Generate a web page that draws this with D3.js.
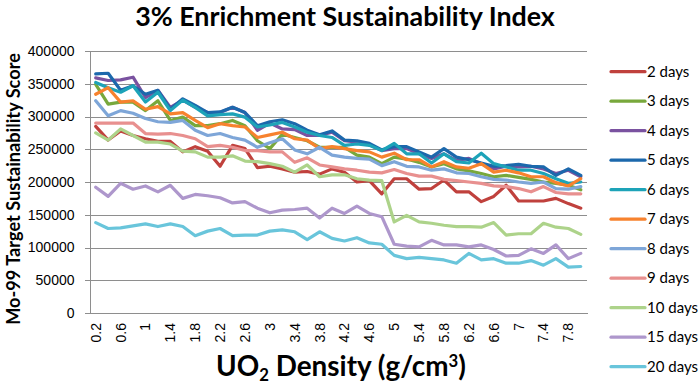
<!DOCTYPE html>
<html>
<head>
<meta charset="utf-8">
<script src="https://cdn.jsdelivr.net/npm/d3@7"></script>
<style>
  html, body { margin: 0; padding: 0; background: #fff; }
  svg { display: block; }
</style>
</head>
<body>
<svg id="chart" width="699" height="386"></svg>
<script>
const categories = ["0.2","0.4","0.6","0.8","1","1.2","1.4","1.6","1.8","2","2.2","2.4","2.6","2.8","3","3.2","3.4","3.6","3.8","4","4.2","4.4","4.6","4.8","5","5.2","5.4","5.6","5.8","6","6.2","6.4","6.6","6.8","7","7.2","7.4","7.6","7.8","8"];
const xTickLabels = ["0.2","0.6","1","1.4","1.8","2.2","2.6","3","3.4","3.8","4.2","4.6","5","5.4","5.8","6.2","6.6","7","7.4","7.8"];
const yTicks = [0, 50000, 100000, 150000, 200000, 250000, 300000, 350000, 400000];
const seriesNames = ["2 days","3 days","4 days","5 days","6 days","7 days","8 days","9 days","10 days","15 days","20 days"];
const seriesColors = ["#C0413D","#78A83C","#7A52A0","#1C68AC","#1DA3B8","#F7822E","#7EA6D8","#E8908F","#ADD38A","#AE97CC","#69C5DB"];

const days2 = [285000,264000,278000,271000,266000,262000,262000,246000,254000,247000,224000,256000,251000,222000,224000,220000,215000,216000,212000,220000,215000,200000,202000,182000,205000,205000,189000,190000,203000,185000,185000,170000,178000,195000,171000,171000,171000,175000,167000,160000];
const days3 = [349000,319000,322000,322000,309000,324000,294000,299000,286000,286000,289000,294000,286000,263000,251000,273000,268000,263000,253000,253000,253000,241000,238000,228000,238000,235000,230000,223000,228000,220000,217000,213000,208000,210000,207000,204000,200000,198000,195000,188000];
const days4 = [359000,355000,356000,360000,329000,340000,314000,325000,314000,306000,306000,314000,306000,279000,290000,281000,280000,271000,271000,276000,263000,261000,257000,248000,251000,251000,243000,236000,243000,233000,236000,228000,220000,224000,223000,224000,220000,213000,218000,208000];
const days5 = [365000,366000,340000,347000,334000,340000,311000,327000,317000,306000,307000,314000,306000,286000,292000,295000,289000,279000,272000,278000,264000,263000,259000,249000,254000,254000,246000,238000,251000,238000,234000,229000,224000,225000,227000,224000,223000,210000,220000,210000];
const days6 = [352000,344000,337000,347000,322000,337000,309000,325000,314000,301000,303000,304000,299000,284000,287000,291000,284000,276000,271000,268000,256000,258000,256000,248000,259000,243000,243000,229000,243000,231000,229000,244000,228000,223000,218000,218000,213000,205000,198000,200000];
const days7 = [334000,344000,322000,324000,311000,315000,304000,306000,294000,283000,289000,286000,284000,268000,272000,276000,266000,264000,251000,254000,251000,248000,246000,238000,244000,234000,234000,223000,231000,223000,221000,228000,215000,218000,214000,208000,208000,199000,194000,205000];
const days8 = [324000,301000,309000,305000,297000,292000,291000,294000,279000,271000,274000,268000,264000,253000,260000,266000,249000,243000,253000,241000,238000,236000,235000,225000,231000,224000,223000,218000,220000,214000,213000,208000,204000,203000,200000,198000,200000,190000,189000,193000];
const days9 = [290000,290000,290000,290000,274000,273000,274000,271000,266000,254000,256000,253000,248000,248000,246000,246000,230000,237000,226000,223000,220000,218000,215000,214000,219000,213000,209000,209000,204000,202000,200000,198000,194000,193000,190000,185000,193000,184000,182000,182000];
const days10 = [275000,264000,281000,271000,261000,261000,258000,247000,246000,238000,238000,240000,232000,231000,228000,224000,215000,226000,208000,211000,211000,205000,203000,202000,139000,149000,139000,137000,134000,132000,132000,131000,138000,119000,121000,121000,137000,131000,129000,120000];
const days15 = [192000,178000,198000,189000,194000,185000,195000,175000,181000,179000,176000,168000,170000,160000,153000,157000,158000,160000,145000,160000,152000,163000,152000,147000,105000,102000,101000,111000,104000,104000,101000,104000,97000,87000,88000,98000,91000,104000,83000,91000];
const days20 = [138000,129000,130000,133000,136000,132000,136000,132000,118000,125000,129000,118000,119000,119000,125000,127000,124000,112000,124000,114000,110000,115000,107000,105000,88000,83000,85000,83000,81000,76000,91000,81000,83000,76000,76000,80000,73000,83000,70000,71000];

const seriesValues = [days2, days3, days4, days5, days6, days7, days8, days9, days10, days15, days20];
const series = seriesNames.map((name, k) => ({ name, color: seriesColors[k], values: seriesValues[k] }));

const svg = d3.select("#chart");
const plot = { left: 89.5, right: 587, top: 51, bottom: 313 };

const x = d3.scaleBand().domain(categories).range([plot.left, plot.right]).padding(0);
const y = d3.scaleLinear().domain([0, 400000]).range([plot.bottom, plot.top]);
const cx = c => x(c) + x.bandwidth() / 2;

// Gridlines
const grid = svg.append("g")
  .attr("transform", `translate(${plot.left},0)`)
  .call(d3.axisLeft(y).tickValues(yTicks).tickSize(-(plot.right - plot.left)).tickFormat(""));
grid.select(".domain").remove();
grid.selectAll("line").attr("stroke", "#8e8e8e").attr("stroke-width", 1).attr("shape-rendering", "crispEdges");

// Y axis
const yAxis = svg.append("g")
  .attr("transform", `translate(${plot.left},0)`)
  .call(d3.axisLeft(y).tickValues(yTicks).tickSize(5).tickSizeOuter(0).tickPadding(10).tickFormat(d3.format("d")));
yAxis.select(".domain").attr("stroke", "#8e8e8e").attr("shape-rendering", "crispEdges");
yAxis.selectAll(".tick line").attr("stroke", "#8e8e8e").attr("shape-rendering", "crispEdges");
yAxis.selectAll("text").attr("font-family", "'Liberation Sans', Arial, sans-serif").attr("font-size", 14).attr("fill", "#000");

// X axis
const xAxis = svg.append("g")
  .attr("transform", `translate(0,${plot.bottom})`)
  .call(d3.axisBottom(x).tickValues(xTickLabels).tickSize(0).tickSizeOuter(0));
xAxis.select(".domain").attr("stroke", "#8e8e8e").attr("shape-rendering", "crispEdges");
xAxis.selectAll("text")
  .attr("font-family", "'Liberation Sans', Arial, sans-serif")
  .attr("font-size", 14)
  .attr("fill", "#000")
  .attr("text-anchor", "end")
  .attr("transform", "rotate(-90)")
  .attr("x", -10)
  .attr("y", 0)
  .attr("dy", "0.35em");

// Lines
const line = d3.line()
  .x((d, i) => cx(categories[i]))
  .y(d => y(d))
  .curve(d3.curveLinear);

svg.append("g").selectAll("path")
  .data(series)
  .join("path")
  .attr("d", s => line(s.values))
  .attr("fill", "none")
  .attr("stroke", s => s.color)
  .attr("stroke-width", 3.2)
  .attr("stroke-linejoin", "round")
  .attr("stroke-linecap", "round");

function fitText(sel, target) {
  const w = sel.node().getComputedTextLength();
  const fs = parseFloat(sel.attr("font-size"));
  sel.attr("font-size", fs * target / w);
}

// Title
const title = svg.append("text")
  .attr("x", 345).attr("y", 26)
  .attr("text-anchor", "middle")
  .attr("font-family", "Lato, 'Open Sans', sans-serif")
  .attr("font-weight", "bold")
  .attr("font-size", 24)
  .attr("fill", "#000")
  .text("3% Enrichment Sustainability Index");
fitText(title, 420);

// X axis title
const xTitle = svg.append("text")
  .attr("x", 341).attr("y", 376)
  .attr("text-anchor", "middle")
  .attr("font-family", "Lato, 'Open Sans', sans-serif")
  .attr("font-weight", "bold")
  .attr("font-size", 24)
  .attr("fill", "#000");
xTitle.append("tspan").text("UO");
xTitle.append("tspan").attr("font-size", "0.6em").attr("dy", "0.3em").text("2");
xTitle.append("tspan").attr("dy", "-0.18em").text(" Density (g/cm");
xTitle.append("tspan").attr("font-size", "0.6em").attr("dy", "-0.55em").text("3");
xTitle.append("tspan").attr("dy", "0.33em").text(")");
fitText(xTitle, 250);

// Y axis title
const yTitle = svg.append("text")
  .attr("transform", `translate(20,${(53 + 325) / 2}) rotate(-90)`)
  .attr("text-anchor", "middle")
  .attr("font-family", "Lato, 'Open Sans', sans-serif")
  .attr("font-weight", "bold")
  .attr("font-size", 15)
  .attr("fill", "#000")
  .text("Mo-99 Target Sustainability Score");
fitText(yTitle, 272);

// Legend
const legend = svg.append("g");
const items = legend.selectAll("g")
  .data(series)
  .join("g")
  .attr("transform", (d, i) => `translate(611,${71.7 + i * 29.5})`);
items.append("line")
  .attr("x1", 0).attr("x2", 34).attr("y1", 0).attr("y2", 0)
  .attr("stroke", d => d.color).attr("stroke-width", 3.2).attr("stroke-linecap", "round");
items.append("text")
  .attr("x", 36).attr("y", 0).attr("dy", "0.35em")
  .attr("font-family", "Lato, 'Open Sans', sans-serif")
  .attr("font-size", 15)
  .attr("fill", "#000")
  .text(d => d.name);
</script>
</body>
</html>
